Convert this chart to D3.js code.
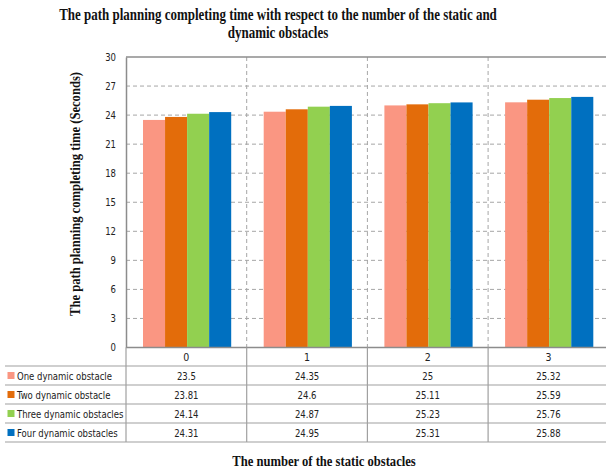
<!DOCTYPE html>
<html>
<head>
<meta charset="utf-8">
<script src="https://cdn.jsdelivr.net/npm/d3@7"></script>
<style>
  html, body { margin: 0; padding: 0; background: #fff; }
  svg { display: block; }
</style>
</head>
<body>
<svg id="chart" width="606" height="469"></svg>
<script>
// Number of static obstacles (categories)
const categories = ["0", "1", "2", "3"];
// Series names
const seriesNames = [
  "One dynamic obstacle",
  "Two dynamic obstacle",
  "Three dynamic obstacles",
  "Four dynamic obstacles"
];
// Completing time (seconds) per series
const oneDynamic = [23.5, 24.35, 25, 25.32];
const twoDynamic = [23.81, 24.6, 25.11, 25.59];
const threeDynamic = [24.14, 24.87, 25.23, 25.76];
const fourDynamic = [24.31, 24.95, 25.31, 25.88];
const seriesColors = ["#FA9682", "#E36C0A", "#92D050", "#0070C0"];
const yTicks = [0, 3, 6, 9, 12, 15, 18, 21, 24, 27, 30];

const seriesValues = [oneDynamic, twoDynamic, threeDynamic, fourDynamic];

const svg = d3.select("#chart");
const plotLeft = 126, plotTop = 57, plotBottom = 347.5;
const catWidth = 120.7;
const plotRight = plotLeft + catWidth * categories.length;
const gridColor = "#a6a6a6";
const lineColor = "#a0a0a0";
const labelFont = "'DejaVu Sans Condensed', 'Liberation Sans Narrow', 'Open Sans', sans-serif";
const serif = "'Liberation Serif', 'Times New Roman', serif";

// squeeze a text element horizontally by a factor
function squeeze(sel, factor) {
  sel.each(function () {
    const len = this.getComputedTextLength();
    d3.select(this).attr("textLength", len * factor).attr("lengthAdjust", "spacingAndGlyphs");
  });
}

const x = d3.scaleBand().domain(categories).range([plotLeft, plotRight]);
const xInner = d3.scaleBand().domain(d3.range(seriesNames.length))
  .range([17, 17 + 88.2]).padding(0);
const y = d3.scaleLinear().domain([0, 30]).range([plotBottom, plotTop]);

// Title
const titleLines = [
  "The path planning completing time with respect to the number of the static and",
  "dynamic obstacles"
];
svg.append("g").selectAll("text").data(titleLines).join("text")
  .attr("x", 278).attr("y", (d, i) => 20 + i * 18)
  .attr("text-anchor", "middle")
  .attr("font-family", serif)
  .attr("font-weight", "bold")
  .attr("font-size", 16)
  .attr("fill", "#111")
  .text(d => d)
  .call(squeeze, 0.81);

// Horizontal dashed gridlines
svg.append("g").selectAll("line").data(yTicks.filter(d => d > 0 && d < 30)).join("line")
  .attr("x1", plotLeft).attr("x2", plotRight)
  .attr("y1", d => y(d)).attr("y2", d => y(d))
  .attr("stroke", gridColor).attr("stroke-width", 1)
  .attr("stroke-dasharray", "4,3");

// Vertical dashed category dividers
svg.append("g").selectAll("line").data(categories.slice(1)).join("line")
  .attr("x1", d => x(d)).attr("x2", d => x(d))
  .attr("y1", plotTop).attr("y2", plotBottom)
  .attr("stroke", gridColor).attr("stroke-width", 1)
  .attr("stroke-dasharray", "4,3");

// Bars
const groups = svg.append("g").selectAll("g").data(categories).join("g")
  .attr("transform", d => `translate(${x(d)},0)`);
groups.selectAll("rect")
  .data((c, ci) => seriesValues.map((vals, si) => ({ si, v: vals[ci] })))
  .join("rect")
  .attr("x", d => xInner(d.si))
  .attr("width", xInner.bandwidth())
  .attr("y", d => y(d.v))
  .attr("height", d => y(0) - y(d.v))
  .attr("fill", d => seriesColors[d.si]);

// Plot frame: top edge
svg.append("line").attr("x1", plotLeft).attr("x2", plotRight)
  .attr("y1", plotTop).attr("y2", plotTop)
  .attr("stroke", "#8c8c8c").attr("stroke-width", 1.5);

// Y axis
const yAxis = d3.axisLeft(y).tickValues(yTicks).tickSize(0).tickPadding(10);
const yG = svg.append("g").attr("transform", `translate(${plotLeft},0)`).call(yAxis);
yG.select(".domain").attr("stroke", "#8c8c8c").attr("stroke-width", 1.5);
yG.selectAll("text").attr("font-family", labelFont).attr("font-size", 10.5).attr("fill", "#222")
  .call(squeeze, 0.9);

// Data table below the plot
const rowTop = plotBottom;
const headerH = 18.5, rowH = 19;
const tableLeft = 5;
const rowYs = [rowTop + headerH];
seriesNames.forEach((_, i) => rowYs.push(rowTop + headerH + rowH * (i + 1)));
const tableBottom = rowYs[rowYs.length - 1];

const table = svg.append("g");
table.append("line").attr("x1", plotLeft).attr("x2", plotRight)
  .attr("y1", rowTop).attr("y2", rowTop).attr("stroke", "#8c8c8c").attr("stroke-width", 1.5);
table.selectAll("line.row").data(rowYs).join("line").attr("class", "row")
  .attr("x1", tableLeft).attr("x2", plotRight)
  .attr("y1", d => d).attr("y2", d => d)
  .attr("stroke", lineColor).attr("stroke-width", 1.2);
const vXs = [plotLeft].concat(categories.slice(1).map(c => x(c)));
table.selectAll("line.col").data(vXs).join("line").attr("class", "col")
  .attr("x1", d => d).attr("x2", d => d)
  .attr("y1", rowTop).attr("y2", tableBottom)
  .attr("stroke", lineColor).attr("stroke-width", 1.2);

// header labels (categories)
table.selectAll("text.cat").data(categories).join("text").attr("class", "cat")
  .attr("x", d => x(d) + x.bandwidth() / 2)
  .attr("y", rowTop + headerH / 2 + 4)
  .attr("text-anchor", "middle")
  .attr("font-family", labelFont).attr("font-size", 10.5).attr("fill", "#222")
  .text(d => d);

// series rows
seriesNames.forEach((name, si) => {
  const top = rowYs[si];
  const mid = top + rowH / 2;
  table.append("rect").attr("x", 7.5).attr("y", mid - 3.5)
    .attr("width", 7).attr("height", 7).attr("fill", seriesColors[si]);
  table.append("text").attr("x", 17).attr("y", mid + 4)
    .attr("font-family", labelFont).attr("font-size", 10.5).attr("fill", "#222")
    .text(name)
    .call(squeeze, 0.9);
  table.selectAll(null).data(categories).join("text")
    .attr("x", d => x(d) + x.bandwidth() / 2)
    .attr("y", mid + 4)
    .attr("text-anchor", "middle")
    .attr("font-family", labelFont).attr("font-size", 10.5).attr("fill", "#222")
    .text((d, ci) => String(seriesValues[si][ci]))
    .call(squeeze, 0.9);
});

// Axis titles
svg.append("text")
  .attr("transform", `translate(80,194) rotate(-90)`)
  .attr("text-anchor", "middle")
  .attr("font-family", serif)
  .attr("font-weight", "bold").attr("font-size", 14).attr("fill", "#111")
  .text("The path planning completing time (Seconds)")
  .call(squeeze, 0.9);

svg.append("text")
  .attr("x", 324).attr("y", 466)
  .attr("text-anchor", "middle")
  .attr("font-family", serif)
  .attr("font-weight", "bold").attr("font-size", 14).attr("fill", "#111")
  .text("The number of the static obstacles")
  .call(squeeze, 0.9);
</script>
</body>
</html>
